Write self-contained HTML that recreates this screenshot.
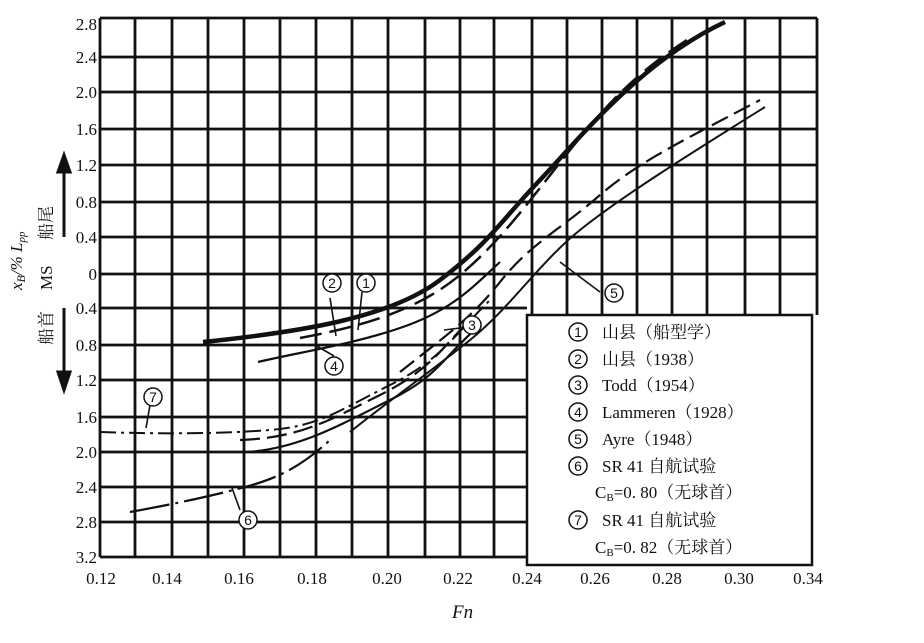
<!DOCTYPE html>
<html><head><meta charset="utf-8"><style>
body{margin:0;background:#fff}
svg{display:block}
text{font-family:"Liberation Serif","Noto Serif CJK SC",serif;fill:#111}
.c circle{fill:#fff;stroke:#111;stroke-width:1.5}
.c text{font-size:14px;text-anchor:middle;font-family:"Liberation Sans",sans-serif}
</style></head><body>
<svg width="924" height="643" viewBox="0 0 924 643" xmlns="http://www.w3.org/2000/svg">
<g stroke="#111" stroke-width="2.8" fill="none">
<path d="M100,18V557M135,18V557M172,18V557M208,18V557M244,18V557M280,18V557M316,18V557M352,18V557M388,18V557M425,18V557M460,18V557M494,18V315M532,18V315M567,18V315M602,18V315M637,18V315M672,18V315M707,18V315M745,18V315M780,18V315M817,18V315"/>
<path d="M494,315V557"/>
<path d="M100,18H817M100,57H817M100,92H817M100,129H817M100,165H817M100,202H817M100,237H817M100,274H817M100,308H527M100,345H527M100,380H527M100,417H527M100,452H527M100,487H527M100,522H527M100,557H527"/>
<rect x="527" y="315" width="285" height="250" fill="#fff" stroke-width="2.5"/>
</g>
<g fill="none" stroke="#111">
<path d="M203,342 C300,332 390,318 440,280 S500,222 540,180 S640,62 725,22" stroke-width="4.5"/>
<path d="M300,338 C370,325 420,308 460,275 S530,200 570,150 S640,70 690,38" stroke-width="2.5" stroke-dasharray="22,8"/>
<path d="M258,362 C300,352 350,345 400,328 S470,290 500,262" stroke-width="2.2"/>
<path d="M400,372 C440,340 470,320 500,282 S560,230 600,195 S700,132 760,100" stroke-width="2.2" stroke-dasharray="18,7"/>
<path d="M350,432 C390,400 430,372 470,340 S540,262 580,230 S680,160 765,107" stroke-width="2"/>
<path d="M100,432 C160,434 220,434 270,430 S340,410 390,385 S450,340 490,300" stroke-width="2" stroke-dasharray="16,5,3,5"/>
<path d="M240,440 C300,438 330,420 380,395 S440,350 470,320" stroke-width="2.2" stroke-dasharray="20,7"/>
<path d="M248,452 C300,448 340,425 390,400 S440,360 480,325" stroke-width="2.2"/>
<path d="M130,512 C180,503 215,495 245,487 S300,468 330,440" stroke-width="2.2" stroke-dasharray="40,6,3,6"/>
</g>
<g stroke="#111" stroke-width="1.6" fill="none">
<path d="M330,298L336,336M362,292L358,330M460,328L444,330M334,356L315,345M600,292L560,262M240,510L232,488M150,405L146,428"/>
</g>
<g class="c">
<circle cx="332" cy="283" r="9"/><text x="332" y="288">2</text>
<circle cx="366" cy="283" r="9"/><text x="366" y="288">1</text>
<circle cx="472" cy="325" r="9"/><text x="472" y="330">3</text>
<circle cx="334" cy="366" r="9"/><text x="334" y="371">4</text>
<circle cx="614" cy="293" r="9"/><text x="614" y="298">5</text>
<circle cx="248" cy="520" r="9"/><text x="248" y="525">6</text>
<circle cx="153" cy="397" r="9"/><text x="153" y="402">7</text>
<circle cx="578" cy="332" r="9"/><text x="578" y="337">1</text>
<circle cx="578" cy="359" r="9"/><text x="578" y="364">2</text>
<circle cx="578" cy="385" r="9"/><text x="578" y="390">3</text>
<circle cx="578" cy="412" r="9"/><text x="578" y="417">4</text>
<circle cx="578" cy="439" r="9"/><text x="578" y="444">5</text>
<circle cx="578" cy="466" r="9"/><text x="578" y="471">6</text>
<circle cx="578" cy="520" r="9"/><text x="578" y="525">7</text>
</g>
<g font-size="17" text-anchor="end" font-family="Liberation Sans, sans-serif">
<text x="97" y="30">2.8</text><text x="97" y="63">2.4</text><text x="97" y="98">2.0</text><text x="97" y="135">1.6</text>
<text x="97" y="171">1.2</text><text x="97" y="208">0.8</text><text x="97" y="243">0.4</text><text x="97" y="280">0</text>
<text x="97" y="314">0.4</text><text x="97" y="351">0.8</text><text x="97" y="386">1.2</text><text x="97" y="423">1.6</text>
<text x="97" y="458">2.0</text><text x="97" y="493">2.4</text><text x="97" y="528">2.8</text><text x="97" y="563">3.2</text>
</g>
<g font-size="17" text-anchor="middle">
<text x="101" y="584">0.12</text><text x="167" y="584">0.14</text><text x="239" y="584">0.16</text><text x="312" y="584">0.18</text>
<text x="387" y="584">0.20</text><text x="458" y="584">0.22</text><text x="527" y="584">0.24</text><text x="595" y="584">0.26</text>
<text x="667" y="584">0.28</text><text x="739" y="584">0.30</text><text x="808" y="584">0.34</text>
</g>
<text x="452" y="618" font-size="19" font-style="italic">Fn</text>
<g font-size="17">
<text transform="translate(22,290) rotate(-90)" font-style="italic">x<tspan font-size="12" dy="3">B</tspan><tspan dy="-3">/% L</tspan><tspan font-size="11" dy="3">pp</tspan></text>
<text transform="translate(52,240) rotate(-90)">船尾</text>
<text transform="translate(52,290) rotate(-90)" font-family="Liberation Sans">MS</text>
<text transform="translate(52,345) rotate(-90)">船首</text>
</g>
<g stroke="#111" stroke-width="3" fill="#111">
<path d="M64,237V165" fill="none"/><path d="M58,172L64,155L70,172Z"/>
<path d="M64,308V378" fill="none"/><path d="M58,372L64,390L70,372Z"/>
</g>
<g font-size="17" font-family="Liberation Serif, Noto Serif CJK SC, serif">
<text x="602" y="338">山县（船型学）</text>
<text x="602" y="365">山县（1938）</text>
<text x="602" y="391">Todd（1954）</text>
<text x="602" y="418" font-family="Liberation Mono">Lammeren<tspan font-family="Liberation Serif, Noto Serif CJK SC">（1928）</tspan></text>
<text x="602" y="445" font-family="Liberation Mono">Ayre<tspan font-family="Liberation Serif, Noto Serif CJK SC">（1948）</tspan></text>
<text x="602" y="472">SR 41 自航试验</text>
<text x="595" y="498">C<tspan font-size="11" dy="3">B</tspan><tspan dy="-3">=0. 80（无球首）</tspan></text>
<text x="602" y="526">SR 41 自航试验</text>
<text x="595" y="553">C<tspan font-size="11" dy="3">B</tspan><tspan dy="-3">=0. 82（无球首）</tspan></text>
</g>
</svg>
</body></html>
